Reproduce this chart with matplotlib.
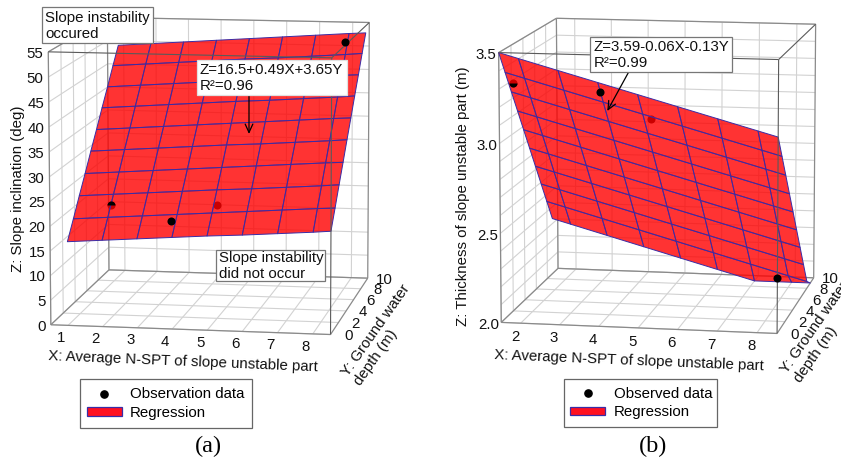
import numpy as np
import matplotlib
matplotlib.use('Agg')
import matplotlib.pyplot as plt
from matplotlib.lines import Line2D
from matplotlib.patches import Patch, Rectangle
from mpl_toolkits.mplot3d import proj3d

plt.rcParams['font.family'] = ['Liberation Sans', 'DejaVu Sans']

W, H = 841, 458

# ---------- panel (a) data ----------
xlim_a = (0.5, 8.5)
ylim_a = (0, 10)
zlim_a = (0, 55)
xticks_a = [1, 2, 3, 4, 5, 6, 7, 8]
yticks_a = [0, 2, 4, 6, 8, 10]
zticks_a = [0, 5, 10, 15, 20, 25, 30, 35, 40, 45, 50, 55]
zgrid_a = zticks_a
plane_x_a = [1, 2, 3, 4, 5, 6, 7, 8, 8.5]
plane_y_a = [0, 1, 2, 3, 4, 5, 6, 7, 8, 9]
plane_z_a = [
    [17.0, 17.5, 18.0, 18.5, 19.0, 19.4, 19.9, 20.4, 20.7],
    [20.6, 21.1, 21.6, 22.1, 22.6, 23.1, 23.6, 24.1, 24.3],
    [24.3, 24.8, 25.3, 25.8, 26.3, 26.7, 27.2, 27.7, 28.0],
    [27.9, 28.4, 28.9, 29.4, 29.9, 30.4, 30.9, 31.4, 31.6],
    [31.6, 32.1, 32.6, 33.1, 33.6, 34.0, 34.5, 35.0, 35.3],
    [35.2, 35.7, 36.2, 36.7, 37.2, 37.7, 38.2, 38.7, 38.9],
    [38.9, 39.4, 39.9, 40.4, 40.9, 41.3, 41.8, 42.3, 42.6],
    [42.5, 43.0, 43.5, 44.0, 44.5, 45.0, 45.5, 46.0, 46.2],
    [46.2, 46.7, 47.2, 47.7, 48.2, 48.6, 49.1, 49.6, 49.9],
    [49.8, 50.3, 50.8, 51.3, 51.8, 52.3, 52.8, 53.3, 53.5],
]
obs_above_a = ([7.92, 3.86], [8.6, 0.72], [51.78, 21.03])
obs_below_a = ([5.09, 2.0], [1.34, 1.53], [23.89, 23.08])
obs_half_a = ([2.0], [1.53], [23.08])

# ---------- panel (b) data ----------
xlim_b = (1.5, 8.5)
ylim_b = (0, 10)
zlim_b = (2.0, 3.5)
xticks_b = [2, 3, 4, 5, 6, 7, 8]
yticks_b = [0, 2, 4, 6, 8, 10]
zticks_b = [2.0, 2.5, 3.0, 3.5]
zgrid_b = [2.0, 2.1, 2.2, 2.3, 2.4, 2.5, 2.6, 2.7, 2.8, 2.9, 3.0, 3.1, 3.2, 3.3, 3.4, 3.5]
plane_x_b = [1.5, 2, 3, 4, 5, 6, 7, 8, 8.5]
plane_y_b = [0, 1, 2, 3, 4, 5, 6, 7, 8, 9]
plane_z_b = [
    [3.50, 3.47, 3.41, 3.35, 3.29, 3.23, 3.17, 3.11, 3.08],
    [3.37, 3.34, 3.28, 3.22, 3.16, 3.10, 3.04, 2.98, 2.95],
    [3.24, 3.21, 3.15, 3.09, 3.03, 2.97, 2.91, 2.85, 2.82],
    [3.11, 3.08, 3.02, 2.96, 2.90, 2.84, 2.78, 2.72, 2.69],
    [2.98, 2.95, 2.89, 2.83, 2.77, 2.71, 2.65, 2.59, 2.56],
    [2.85, 2.82, 2.76, 2.70, 2.64, 2.58, 2.52, 2.46, 2.43],
    [2.72, 2.69, 2.63, 2.57, 2.51, 2.45, 2.39, 2.33, 2.30],
    [2.59, 2.56, 2.50, 2.44, 2.38, 2.32, 2.26, 2.20, 2.17],
    [2.46, 2.43, 2.37, 2.31, 2.25, 2.19, 2.13, 2.07, 2.04],
    [2.33, 2.30, 2.24, 2.18, 2.12, 2.06, 2.00, 2.00, 2.00],
]
obs_above_b = ([3.99, 7.67], [0.49, 8.37], [3.29, 2.04])
obs_below_b = ([5.19, 1.62], [1.13, 1.52], [3.13, 3.30])
obs_half_b = ([1.62], [1.52], [3.30])

RED = (1, 0, 0, 0.8)
MESH = '#3a2ca6'
GRID = '#d2d2d2'
EDGE = '#8a8a8a'
FRONT = '#5a5a5a'
TXT = '#111111'
FS = 10.8


def panel(fig, left_px, bottom_px, view, focal, aspect, zoom,
          xlim, ylim, zlim, xticks, yticks, zticks, zgrid,
          px, py, pz, above, below, half, half_style, ztick_fmt,
          xoff, zoff_x, yoff, zoff_y, xoff_z, zoff_z):
    ax = fig.add_axes([left_px / W, bottom_px / H, H / W, 1], projection='3d',
                      computed_zorder=False)
    ax.set_xlim(*xlim); ax.set_ylim(*ylim); ax.set_zlim(*zlim)
    ax.set_xticks([]); ax.set_yticks([]); ax.set_zticks([])
    ax.set_axis_off()
    ax.view_init(elev=view[0], azim=view[1], roll=view[2])
    ax.set_proj_type('persp', focal_length=focal)
    ax.set_box_aspect(aspect, zoom=zoom)

    x0, x1 = xlim; y0, y1 = ylim; z0, z1 = zlim

    def seg(xs, ys, zs, c=GRID, lw=0.8, z=1):
        ax.plot(xs, ys, zs, color=c, lw=lw, zorder=z, solid_capstyle='butt')

    # floor, back wall and left wall grids
    for v in xticks:
        seg([v, v], [y0, y1], [z0, z0])
        seg([v, v], [y1, y1], [z0, z1])
    for v in yticks:
        seg([x0, x1], [v, v], [z0, z0])
        seg([x0, x0], [v, v], [z0, z1])
    for v in zgrid:
        seg([x0, x1], [y1, y1], [v, v])
        seg([x0, x0], [y0, y1], [v, v])

    # box edges behind the surface
    for xs, ys, zs in [([x0, x1], [y1, y1], [z0, z0]), ([x0, x1], [y1, y1], [z1, z1]),
                       ([x0, x0], [y1, y1], [z0, z1]), ([x1, x1], [y1, y1], [z0, z1]),
                       ([x0, x0], [y0, y1], [z0, z0]), ([x1, x1], [y0, y1], [z0, z0]),
                       ([x0, x0], [y0, y1], [z1, z1]), ([x0, x0], [y0, y0], [z0, z1]),
                       ([x0, x1], [y0, y0], [z0, z0])]:
        seg(xs, ys, zs, c=EDGE, lw=0.9, z=1.5)

    # observations lying behind the surface
    ax.plot(*below, ls='none', marker='o', ms=5.8, mfc='black', mec='none', zorder=2)

    # regression surface
    X, Y = np.meshgrid(px, py)
    ax.plot_surface(X, Y, np.array(pz), rstride=1, cstride=1, color=RED,
                    edgecolor=MESH, linewidth=0.7, shade=False, zorder=3)

    # front box edges cross over the surface
    for xs, ys, zs in [([x1, x1], [y0, y0], [z0, z1]), ([x0, x1], [y0, y0], [z1, z1]),
                       ([x1, x1], [y0, y1], [z1, z1])]:
        seg(xs, ys, zs, c=FRONT, lw=0.8, z=4)

    # observations in front of the surface
    ax.plot(*above, ls='none', marker='o', ms=5.8, mfc='black', mec='none', zorder=5)
    ax.plot(*half, ls='none', marker='o', ms=5.8, mfc='black', mec='none', zorder=5,
            fillstyle=half_style, markerfacecoloralt='none')

    # tick labels, placed at the projected position of each tick
    ax.apply_aspect()
    M = ax.get_proj()

    def label(x, y, z, s, ha):
        u, v, _ = proj3d.proj_transform(x, y, z, M)
        xp, yp = ax.transData.transform((u, v))
        fig.text(xp / W, yp / H, s, fontsize=FS, color=TXT, ha=ha, va='center')

    for v in xticks:
        label(v + xoff, y0, z0 + zoff_x, str(v), 'center')
    for v in yticks:
        label(x1 + yoff, v, z0 + zoff_y, str(v), 'center')
    for v in zticks:
        label(x0 + xoff_z, y0, v + zoff_z, ztick_fmt.format(v), 'right')
    return ax


fig = plt.figure(figsize=(W / 100, H / 100), dpi=100)

panel(fig, -20.8, 53.29, (9.3613, -80.1841, 0.0757), 1.3744, (1.026, 1.0548, 1.0), 1.009,
      xlim_a, ylim_a, zlim_a, xticks_a, yticks_a, zticks_a, zgrid_a,
      plane_x_a, plane_y_a, plane_z_a, obs_above_a, obs_below_a, obs_half_a, 'top', '{:d}',
      -0.2, -2.6, 0.5, -0.2, -0.14, -0.4)
panel(fig, 427.16, 53.21, (10.0309, -79.6297, 0.0399), 1.297, (1.0233, 0.9864, 1.0), 0.978,
      xlim_b, ylim_b, zlim_b, xticks_b, yticks_b, zticks_b, zgrid_b,
      plane_x_b, plane_y_b, plane_z_b, obs_above_b, obs_below_b, obs_half_b, 'bottom', '{:.1f}',
      -0.15, -0.078, 0.44, -0.005, -0.05, -0.015)

# 2D overlay in image pixels for labels, callouts and legends
ov = fig.add_axes([0, 0, 1, 1])
ov.set_xlim(0, W); ov.set_ylim(H, 0)
ov.set_xticks([]); ov.set_yticks([])
ov.set_axis_off(); ov.patch.set_alpha(0)


def callout(x0, y0, x1, y1, tx, text, ec='#777777'):
    ov.add_patch(Rectangle((x0, y0), x1 - x0, y1 - y0, fc='white', ec=ec, lw=0.9, zorder=6))
    ov.text(tx, (y0 + y1) / 2 + 0.5, text, fontsize=FS, color=TXT, ha='left', va='center',
            zorder=7, linespacing=1.2)


callout(41.7, 7.3, 152.7, 43.3, 45, 'Slope instability\noccured')
callout(196.7, 60, 346.7, 95, 200, 'Z=16.5+0.49X+3.65Y\nR\u00b2=0.96', ec='#e0e0e0')
callout(215.7, 249.7, 325, 281.3, 219, 'Slope instability\ndid not occur')
callout(590, 36.7, 731.7, 71.7, 594, 'Z=3.59-0.06X-0.13Y\nR\u00b2=0.99')

arrow = dict(arrowstyle='->,head_width=0.25,head_length=0.55', lw=0.9, color='black',
             shrinkA=0, shrinkB=0, mutation_scale=11)
ov.annotate('', xy=(249, 134), xytext=(249, 95), arrowprops=arrow, zorder=5)
ov.annotate('', xy=(607.3, 111), xytext=(628.3, 72.7), arrowprops=arrow, zorder=5)

ov.text(183, 362, 'X: Average N-SPT of slope unstable part', fontsize=FS, color=TXT,
        rotation=-2.4, ha='center', va='center')
ov.text(629, 361, 'X: Average N-SPT of slope unstable part', fontsize=FS, color=TXT,
        rotation=-2.4, ha='center', va='center')
ov.text(18, 189, 'Z: Slope inclination (deg)', fontsize=FS, color=TXT, rotation=90,
        ha='center', va='center')
ov.text(463, 196, 'Z: Thickness of slope unstable part (m)', fontsize=FS, color=TXT, rotation=90,
        ha='center', va='center')
ov.text(382, 335, 'Y: Ground water\ndepth (m)', fontsize=FS, color=TXT, rotation=55,
        ha='center', va='center', multialignment='left')
ov.text(821.3, 332, 'Y: Ground water\ndepth (m)', fontsize=FS, color=TXT, rotation=55,
        ha='center', va='center', multialignment='left')
ov.text(208, 446, '(a)', fontsize=17.5, family='Liberation Serif', color='black',
        ha='center', va='center')
ov.text(653, 446, '(b)', fontsize=17.5, family='Liberation Serif', color='black',
        ha='center', va='center')


def legend(x0, y0, x1, y1, label):
    ov.add_patch(Rectangle((x0, y0), x1 - x0, y1 - y0, fc='white', ec='#666666', lw=0.9, zorder=6))
    handles = [Line2D([], [], ls='none', marker='o', ms=5.2, color='black'),
               Patch(fc='#ff1020', ec=MESH, lw=0.9)]
    lg = ov.legend(handles, [label, 'Regression'], loc='upper left',
                   bbox_to_anchor=(x0 + 6.7, y0 + 8), bbox_transform=ov.transData,
                   fontsize=FS, handlelength=2.33, handleheight=0.5, handletextpad=0.55,
                   borderpad=0, labelspacing=0.3, borderaxespad=0, frameon=False)
    lg.set_zorder(7)
    ov.add_artist(lg)
    ov.legend_ = None


legend(80.3, 379.3, 252.3, 428.3, 'Observation data')
legend(563.7, 378.7, 717.3, 427.3, 'Observed data')

fig.savefig('out.png', dpi=100)
